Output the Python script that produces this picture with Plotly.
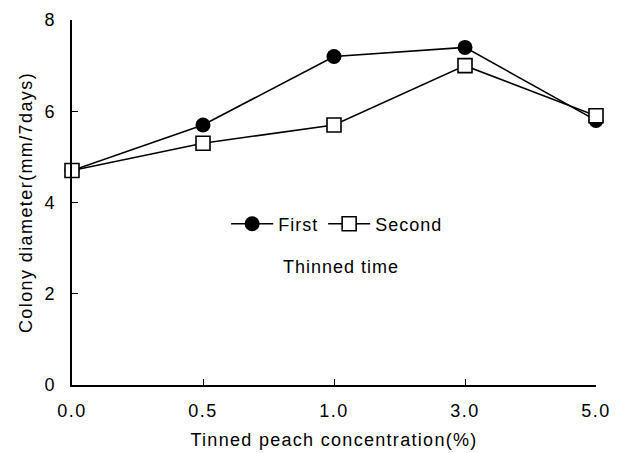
import plotly.graph_objects as go

categories = ["0.0", "0.5", "1.0", "3.0", "5.0"]
first = [4.7, 5.7, 7.2, 7.4, 5.8]
second = [4.7, 5.3, 5.7, 7.0, 5.9]
y_ticks = [0, 2, 4, 6, 8]

fam = "Liberation Sans, Arial, Helvetica, sans-serif"
font = dict(family=fam, size=18, color="black")
tickfont = dict(family=fam, size=18, color="black")


def spaced(t, px=1.3):
    return f'<span style="letter-spacing:{px}px">{t}</span>'


fig = go.Figure()
fig.add_trace(go.Scatter(
    x=categories, y=first, name=spaced("First", 1.0), mode="lines+markers",
    line=dict(color="black", width=1.6),
    marker=dict(symbol="circle", size=15, color="black"),
    cliponaxis=False,
))
fig.add_trace(go.Scatter(
    x=categories, y=second, name=spaced("Second", 1.0), mode="lines+markers",
    line=dict(color="black", width=1.6),
    marker=dict(symbol="square", size=14, color="white", line=dict(color="black", width=1.6)),
    cliponaxis=False,
))

fig.update_layout(
    width=610, height=445,
    margin=dict(l=64, r=22, t=12, b=68),
    paper_bgcolor="white", plot_bgcolor="white",
    font=font,
    showlegend=True,
    legend=dict(orientation="h", x=0.506, y=0.441, xanchor="center", yanchor="middle",
                bgcolor="rgba(0,0,0,0)", font=font, itemwidth=42, tracegroupgap=0),
    annotations=[dict(text=spaced("Thinned time", 1.0), x=0.513, y=0.323, xref="paper", yref="paper",
                      showarrow=False, font=font, xanchor="center", yanchor="middle")],
)
fig.update_xaxes(
    type="category", range=[0, 4], showline=True, linecolor="black", linewidth=2,
    ticks="inside", ticklen=6, tickcolor="black", showgrid=False, zeroline=False,
    tickvals=categories, ticktext=[spaced(c, 1.5) for c in categories],
    ticklabelstandoff=8, automargin=False,
    title=dict(text=spaced("Tinned peach concentration(%)", 1.3), font=font, standoff=14),
    tickfont=tickfont,
)
fig.update_yaxes(
    range=[0, 8], tickvals=y_ticks, showline=True, linecolor="black", linewidth=2,
    ticks="inside", ticklen=6, tickcolor="black", showgrid=False, zeroline=False,
    ticklabelstandoff=12, automargin=False,
    title=dict(text=spaced("Colony diameter(mm/7days)", 1.4), font=font, standoff=7),
    tickfont=tickfont,
)

fig.write_html("out.html")
